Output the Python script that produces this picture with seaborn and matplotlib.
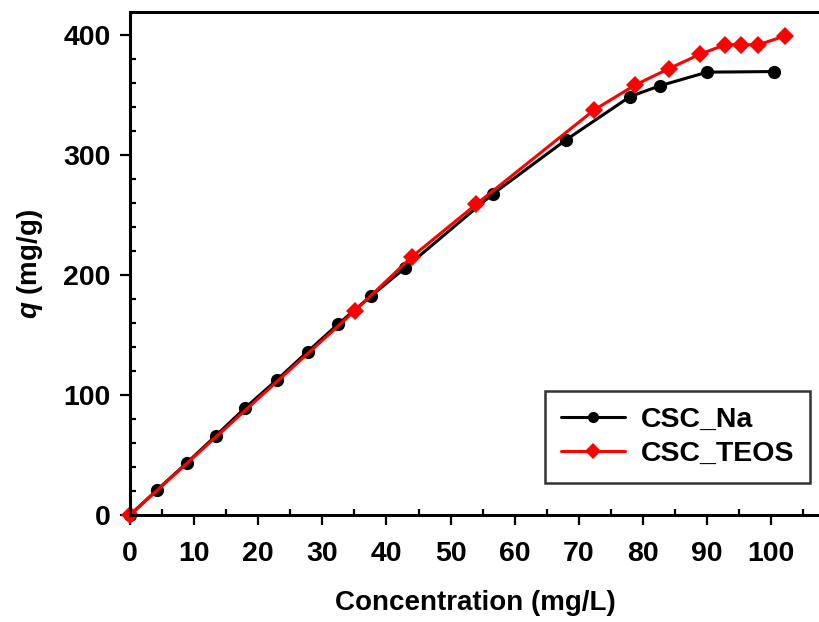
import matplotlib
matplotlib.use("Agg")
import matplotlib.pyplot as plt
from matplotlib.ticker import MultipleLocator
import seaborn as sns
import pandas as pd

# Adsorption isotherm data: equilibrium concentration (mg/L) vs uptake q (mg/g)
na_conc = [0, 4.2, 8.9, 13.4, 18.0, 22.9, 27.7, 32.5, 37.6, 42.9, 56.6, 68.0, 78.0, 82.6, 90.0, 100.4]
na_q = [0, 20.8, 43.6, 66.1, 89.4, 112.5, 136.1, 159.2, 182.5, 205.8, 267.5, 312.5, 348.6, 357.5, 368.9, 369.4]

teos_conc = [0, 35.1, 44.0, 54.0, 72.4, 78.8, 84.0, 88.9, 92.8, 95.3, 98.0, 102.2]
teos_q = [0, 170.3, 215.3, 258.9, 337.5, 358.3, 371.7, 383.9, 391.7, 391.7, 391.7, 399.2]

series_names = ["CSC_Na", "CSC_TEOS"]

df = pd.concat([
    pd.DataFrame({"conc": na_conc, "q": na_q, "sample": series_names[0]}),
    pd.DataFrame({"conc": teos_conc, "q": teos_q, "sample": series_names[1]}),
], ignore_index=True)

sns.set_theme(style="white")
plt.rcParams["font.family"] = ["Liberation Sans", "DejaVu Sans"]
plt.rcParams["font.weight"] = "bold"
plt.rcParams["text.color"] = "black"
plt.rcParams["axes.labelcolor"] = "black"
plt.rcParams["xtick.color"] = "black"
plt.rcParams["ytick.color"] = "black"
plt.rcParams["mathtext.fontset"] = "custom"
plt.rcParams["mathtext.it"] = "Liberation Sans:italic:bold"
plt.rcParams["mathtext.rm"] = "Liberation Sans:bold"

fig = plt.figure(figsize=(8.2, 6.22), dpi=100)
ax = fig.add_axes([0.1585, 0.172, 0.8415, 0.8087])

sns.lineplot(
    data=df, x="conc", y="q", hue="sample", style="sample",
    palette={"CSC_Na": "black", "CSC_TEOS": "#ff0000"},
    markers={"CSC_Na": "o", "CSC_TEOS": "D"},
    dashes=False, sort=False, estimator=None,
    linewidth=2.2, markersize=9.5, markeredgewidth=0,
    ax=ax,
)
for line in ax.lines:
    line.set_clip_on(False)
    if line.get_marker() == "D":
        line.set_markersize(9)

ax.set_xlim(0, 107.6)
ax.set_ylim(0, 419)
ax.xaxis.set_major_locator(MultipleLocator(10))
ax.xaxis.set_minor_locator(MultipleLocator(5))
ax.yaxis.set_major_locator(MultipleLocator(100))
ax.yaxis.set_minor_locator(MultipleLocator(20))

ax.tick_params(which="major", direction="out", length=7, width=1.6,
               labelsize=20.5, color="black", labelcolor="black",
               bottom=True, left=True, top=False, right=False)
ax.tick_params(axis="x", which="major", pad=12)
ax.tick_params(axis="y", which="major", pad=7)
ax.tick_params(which="minor", direction="in", length=4, width=1.6,
               color="black", bottom=True, left=True, top=False, right=False)
for lab in ax.get_xticklabels() + ax.get_yticklabels():
    lab.set_fontweight("bold")

for side in ["left", "bottom", "top"]:
    ax.spines[side].set_linewidth(2.2)
    ax.spines[side].set_color("black")
ax.spines["right"].set_visible(False)

ax.set_xlabel("Concentration (mg/L)", fontsize=20, fontweight="bold",
              color="black", labelpad=16)
ax.set_ylabel(r"$q$ (mg/g)", fontsize=20, fontweight="bold",
              color="black", labelpad=13)

handles, labels = ax.get_legend_handles_labels()
leg = ax.legend(handles, labels, loc="lower right", bbox_to_anchor=(0.9855, 0.064),
                fontsize=20.5, frameon=True, fancybox=False, borderpad=0.55,
                handlelength=2.25, handletextpad=0.55, labelspacing=0.3,
                borderaxespad=0.0)
leg.get_frame().set_edgecolor("black")
leg.get_frame().set_linewidth(1.8)
for t in leg.get_texts():
    t.set_fontweight("bold")
    t.set_color("black")
for h in leg.legend_handles:
    h.set_markersize(8)

fig.savefig("out.png", dpi=100)
